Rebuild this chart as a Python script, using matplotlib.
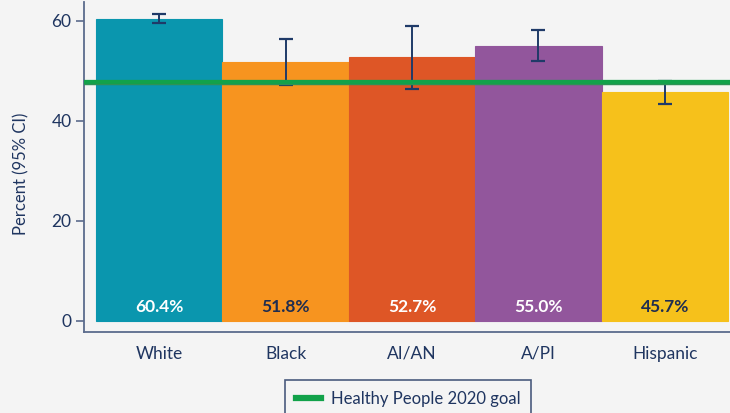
import matplotlib.pyplot as plt

# data
groups = ["White", "Black", "AI/AN", "A/PI", "Hispanic"]
values = [60.4, 51.8, 52.7, 55.0, 45.7]
ci_low = [59.5, 47.2, 46.4, 51.9, 43.3]
ci_high = [61.4, 56.3, 58.9, 58.1, 47.9]
goal = 47.8

colors = ["#0A96AE", "#F7941F", "#DE5626", "#92569C", "#F6C11B"]
label_colors = ["white", "#1F2D50", "white", "white", "#1F2D50"]
navy = "#1F3560"
bg = "#F4F4F4"

plt.rcParams["font.family"] = ["Lato", "DejaVu Sans"]

fig = plt.figure(figsize=(7.3, 4.13), dpi=100, facecolor=bg)
ax = fig.add_axes([84 / 730, 81 / 413, 646 / 730, 330 / 413])
ax.set_facecolor(bg)

x = list(range(len(groups)))
ax.bar(x, values, width=1.0, color=colors, edgecolor=colors, linewidth=0.8, zorder=2)

yerr = [[v - lo for v, lo in zip(values, ci_low)],
        [hi - v for v, hi in zip(values, ci_high)]]
ax.errorbar(x, values, yerr=yerr, fmt="none", ecolor="#1F3A68",
            elinewidth=1.4, capsize=5, capthick=1.6, zorder=3)

goal_line = ax.axhline(goal, color="#12A24A", linewidth=3.8, zorder=4,
                       label="Healthy People 2020 goal")
ax.axhline(goal - 0.45, color="#3C8A5C", linewidth=0.9, alpha=0.7, zorder=4)

for xi, v, c in zip(x, values, label_colors):
    ax.text(xi, 2.7, f"{v:.1f}%", ha="center", va="center", color=c,
            fontsize=12.5, fontweight="bold", zorder=5)

ax.set_xlim(-0.595, 4.516)
ax.set_ylim(-2.3, 63.7)
ax.set_yticks([0, 20, 40, 60])
ax.set_xticks(x)
ax.set_xticklabels(groups)
ax.tick_params(axis="y", colors="#5B6B8C", labelcolor=navy, labelsize=12.5,
               length=6, width=1.2, pad=3)
ax.tick_params(axis="x", length=0, labelcolor=navy, labelsize=12.5, pad=10)
ax.set_ylabel("Percent (95% CI)", color=navy, fontsize=12)
ax.yaxis.set_label_coords(-0.084, 0.479)

for side in ["top", "right"]:
    ax.spines[side].set_visible(False)
for side in ["left", "bottom"]:
    ax.spines[side].set_color("#5B6B8C")
    ax.spines[side].set_linewidth(1.3)

leg = fig.legend(handles=[goal_line], loc="upper left",
                 bbox_to_anchor=(285 / 730, 1 - 380 / 413),
                 frameon=True, fancybox=False, fontsize=12,
                 handlelength=1.5, handletextpad=0.6, borderpad=0.65,
                 borderaxespad=0)
leg.get_frame().set_edgecolor(navy)
leg.get_frame().set_linewidth(1.2)
leg.get_frame().set_facecolor(bg)
for t in leg.get_texts():
    t.set_color(navy)
leg.get_lines()[0].set_linewidth(4.5)

fig.savefig("out.png", dpi=100, facecolor=bg)
